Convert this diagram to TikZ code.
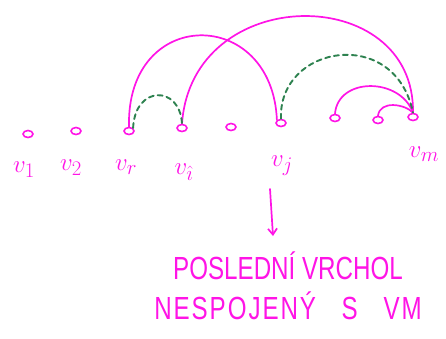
\documentclass[tikz,border=0pt]{standalone}
\usepackage{fontspec}
\setsansfont{Liberation Sans}
\usetikzlibrary{arrows.meta,shapes.geometric}
\definecolor{pink}{RGB}{255,20,230}
\definecolor{dgreen}{RGB}{46,130,80}
\begin{document}
\begin{tikzpicture}[x=1pt,y=-1pt,
  vert/.style={draw=pink,line width=1.6pt,ellipse,minimum width=10pt,minimum height=7pt,inner sep=0pt},
  lbl/.style={text=pink,font=\fontsize{28}{28}\selectfont},
  edge/.style={draw=pink,line width=1.7pt,line cap=round},
  gedge/.style={draw=dgreen,line width=1.9pt,dash pattern=on 5pt off 4pt,line cap=round},
  note/.style={text=pink,font=\sffamily\fontsize{32}{32}\selectfont}]
\useasboundingbox (0,0) rectangle (446,338);
\node[vert] (v1) at (28,134) {};
\node[vert] (v2) at (76,131) {};
\node[vert] (vr) at (129,131) {};
\node[vert] (vi) at (182,128) {};
\node[vert] (ve) at (231,127) {};
\node[vert] (vj) at (281,123) {};
\node[vert] (vk) at (335,118) {};
\node[vert] (vl) at (378,120) {};
\node[vert] (vm) at (413,117) {};
\node[lbl] (l1) at (24,170) {$v_1$};
\node[lbl] (l2) at (71,168) {$v_2$};
\node[lbl] (lr) at (126,167) {$v_r$};
\node[lbl] (li) at (184,172) {$v_{\hat{\imath}}$};
\node[lbl] (lj) at (282,166) {$v_j$};
\node[lbl] (lm) at (424,154) {$v_m$};
% magenta arcs
\draw[edge] (vr.north) .. controls (126,6) and (272,6) .. (vj.north west);
\draw[edge] (vi.north) .. controls (192,-18) and (415,-18) .. (vm.north);
\draw[edge] (vk.north) .. controls (338,77) and (400,77) .. (vm.north);
\draw[edge] (vl.north) .. controls (380,100) and (405,104) .. (vm.north);
% green dashed arcs
\draw[gedge] (vr.north east) .. controls (135,85) and (180,85) .. (vi.north);
\draw[gedge] (vj.north) .. controls (278,45) and (395,25) .. (vm.north);
% arrow
\coordinate (as) at (270,189);
\coordinate (ae) at (273,236);
\draw[edge,-{Straight Barb[length=6pt,width=9pt]}] (as) -- (ae);
\node[note] (t1) at (288,266) {\scalebox{0.755}[1]{POSLEDNÍ VRCHOL}};
\node[note] (t2) at (288,306) {\scalebox{0.755}[1]{\addfontfeature{LetterSpace=8}NESPOJENÝ\hspace{34pt}S\hspace{34pt}VM}};
\end{tikzpicture}
\end{document}
